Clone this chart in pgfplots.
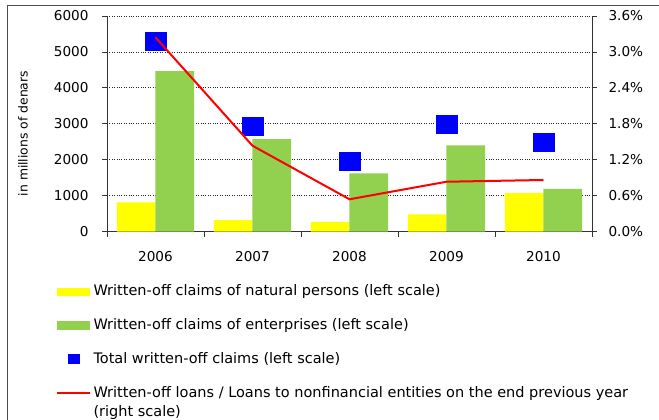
\documentclass[border=0pt]{standalone}
\usepackage{fontspec}
\setmainfont{DejaVu Sans}
\usepackage{pgfplots}
\pgfplotsset{compat=1.18}
\definecolor{cyellow}{RGB}{255,255,0}
\definecolor{cgreen}{RGB}{146,208,80}
\definecolor{cblue}{RGB}{0,0,255}
\definecolor{cred}{RGB}{255,0,0}
\begin{document}
\begin{tikzpicture}
\useasboundingbox (-107pt,-188.3pt) rectangle (552pt,231.7pt);
\clip (-107pt,-188.3pt) rectangle (552pt,231.7pt);
\draw[black!70, line width=1pt] (-99.7pt,225.7pt) rectangle (600pt,-300pt);
\pgfplotsset{
  base/.style={scale only axis, width=485pt, height=215.7pt,
    xmin=-0.5, xmax=4.5, at={(0pt,0pt)}, anchor=south west,
    font=\fontsize{13.6}{16}\selectfont,
    /pgf/number format/assume math mode=true,
    tick align=outside, major tick length=5pt,
    axis line style={-, black!80, line width=0.8pt},
    tick style={black!80, line width=0.8pt}},
}
\begin{axis}[base,
  ymin=0, ymax=6000, ytick={0,1000,2000,3000,4000,5000,6000},
  axis y line*=left, axis x line*=bottom,
  xtick={-0.5,0.5,1.5,2.5,3.5,4.5},
  xticklabels={2006,2007,2008,2009,2010,{}},
  xticklabel style={xshift=48.5pt, yshift=-11pt},
  scaled y ticks=false,
  yticklabel style={/pgf/number format/1000 sep={}, xshift=-10pt},
  ymajorgrids, grid style={black!85, dotted, line width=0.8pt},
  ylabel={in millions of denars},
  ylabel style={font=\fontsize{12.4}{14}\selectfont, at={(axis description cs:-0.173,0.455)}, anchor=center},
]
\addplot[ybar, bar width=38.7pt, bar shift=-19.35pt, fill=cyellow, draw=none]
  coordinates {(0,817) (1,325) (2,270) (3,483) (4,1075)};
\addplot[ybar, bar width=38.7pt, bar shift=19.35pt, fill=cgreen, draw=none]
  coordinates {(0,4464) (1,2575) (2,1622) (3,2400) (4,1194)};
\addplot[only marks, mark=square*, mark size=9pt, color=cblue, mark options={xscale=1.15}]
  coordinates {(0,5292) (1,2922) (2,1969) (3,2986) (4,2478)};
\end{axis}
\begin{axis}[base,
  ymin=0, ymax=3.6, ytick={0,0.6,1.2,1.8,2.4,3.0,3.6},
  axis y line*=right, axis x line=none,
  yticklabel={\pgfmathprintnumber[fixed,fixed zerofill,precision=1]{\tick}\%},
  yticklabel style={xshift=8pt},
  legend cell align=left,
  legend style={at={(axis description cs:-0.1047,-0.2355)}, anchor=north west,
    draw=none, fill=none, inner sep=0pt, row sep=14.8pt, column sep=3pt,
    cells={anchor=base west}, nodes={inner sep=0pt, text depth={}},
    font=\fontsize{14.5}{19}\selectfont},
]
\addlegendimage{legend image code/.code={\fill[cyellow] (0pt,0.8pt) rectangle (32.3pt,8.2pt);}}
\addlegendentry{\strut Written-off claims of natural persons (left scale)}
\addlegendimage{legend image code/.code={\fill[cgreen] (0pt,0.8pt) rectangle (32.3pt,8.2pt);}}
\addlegendentry{\strut Written-off claims of enterprises (left scale)}
\addlegendimage{legend image code/.code={\fill[cblue] (11pt,0pt) rectangle (22.3pt,9pt);}}
\addlegendentry{\strut Total written-off claims (left scale)}
\addplot[cred, line width=2pt, legend image code/.code={\draw[cred, line width=1.8pt] (0pt,4.5pt) -- (32.3pt,4.5pt);}]
  coordinates {(0,3.244) (1,1.435) (2,0.541) (3,0.834) (4,0.863)};
\addlegendentry{\begin{tabular}[t]{@{}l@{}}Written-off loans / Loans to nonfinancial entities on the end previous year\\(right scale)\end{tabular}}
\end{axis}
\end{tikzpicture}
\end{document}
